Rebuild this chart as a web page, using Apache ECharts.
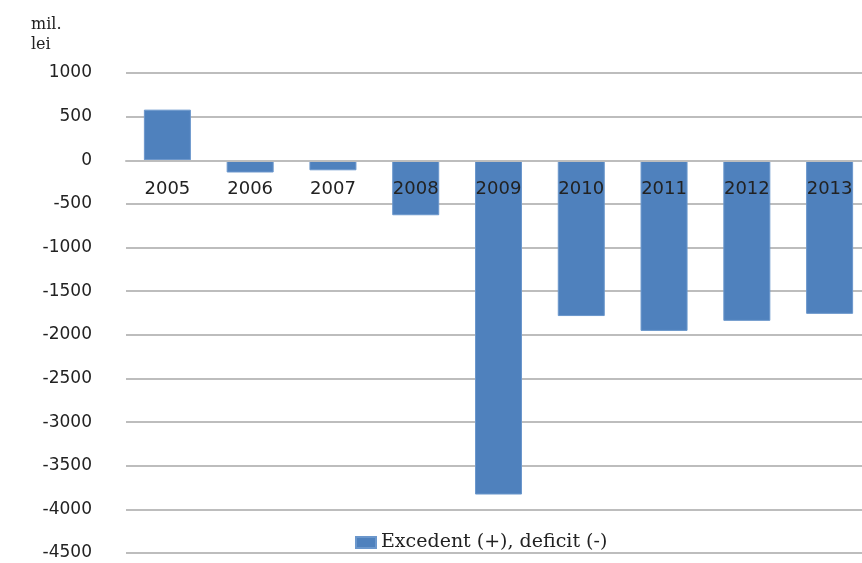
<!DOCTYPE html>
<html>
<head>
<meta charset="utf-8">
<script src="https://cdn.jsdelivr.net/npm/echarts@6/dist/echarts.min.js"></script>
<style>
  html, body { margin: 0; padding: 0; background: #fff; }
  #chart { width: 862px; height: 563px; }
</style>
</head>
<body>
<div id="chart"></div>
<script>
// ani, sold (mil. lei)
const years = ['2005', '2006', '2007', '2008', '2009', '2010', '2011', '2012', '2013']
const balance = [580, -140, -115, -630, -3830, -1785, -1955, -1840, -1760]
const seriesName = 'Excedent (+), deficit (-)'
const unitLabel = 'mil.\nlei'
const yMin = -4500
const yMax = 1000

const chart = echarts.init(document.getElementById('chart'))

const option = {
  animation: false,
  title: {
    text: unitLabel,
    left: 26,
    top: 10,
    textStyle: {
      fontFamily: 'DejaVu Serif',
      fontSize: 16,
      fontWeight: 'normal',
      color: '#222',
      lineHeight: 20
    }
  },
  legend: {
    left: 350,
    top: 528,
    icon: 'rect',
    itemWidth: 20,
    itemHeight: 11,
    itemGap: 6,
    textStyle: {
      fontFamily: 'DejaVu Serif',
      fontSize: 19,
      color: '#222'
    },
    data: [seriesName]
  },
  grid: {
    left: 126,
    right: -9,
    top: 73,
    bottom: 10,
    containLabel: false,
    outerBoundsMode: 'none'
  },
  xAxis: {
    type: 'category',
    data: years,
    z: 10,
    axisLine: {
      onZero: false,
      lineStyle: { color: '#bdbdbd', width: 2 }
    },
    axisTick: { show: false },
    axisLabel: {
      margin: 20,
      fontFamily: 'DejaVu Sans',
      fontSize: 18,
      color: '#222'
    }
  },
  yAxis: {
    type: 'value',
    min: yMin,
    max: yMax,
    interval: 500,
    axisLine: { show: false },
    axisTick: { show: false },
    splitLine: {
      lineStyle: { color: '#bdbdbd', width: 2 }
    },
    axisLabel: {
      margin: 34,
      fontFamily: 'DejaVu Sans',
      fontSize: 17,
      color: '#222',
      formatter: function (v) { return String(v) }
    }
  },
  series: [
    {
      name: seriesName,
      type: 'bar',
      data: balance,
      barWidth: 47,
      itemStyle: {
        color: '#4f81bd',
        borderColor: '#6b97cc',
        borderWidth: 1
      }
    }
  ]
}

chart.setOption(option)

// move the category axis up to the zero line (onZero doesn't kick in here)
const zeroY = chart.convertToPixel({ yAxisIndex: 0 }, 0)
const bottomY = chart.convertToPixel({ yAxisIndex: 0 }, yMin)
chart.setOption({ xAxis: { offset: zeroY - bottomY } })
</script>
</body>
</html>
